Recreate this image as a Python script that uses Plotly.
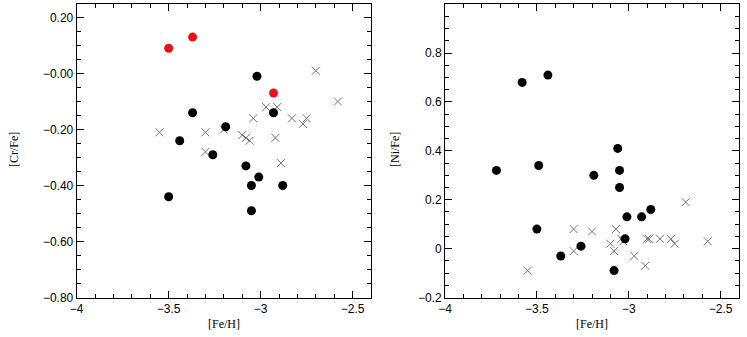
import plotly.graph_objects as go

# ---- data ----
cr_black_feh = [-3.50, -3.37, -3.44, -3.26, -3.19, -3.08, -3.05, -3.05, -3.02, -3.01, -2.93, -2.88]
cr_black_val = [-0.44, -0.14, -0.24, -0.29, -0.19, -0.33, -0.40, -0.49, -0.01, -0.37, -0.14, -0.40]
cr_red_feh = [-3.50, -3.37, -2.93]
cr_red_val = [0.09, 0.13, -0.07]
cr_cross_feh = [-3.55, -3.30, -3.30, -3.20, -3.10, -3.08, -3.06, -3.04, -2.97, -2.91, -2.92, -2.89, -2.83, -2.77, -2.75, -2.70, -2.58]
cr_cross_val = [-0.21, -0.21, -0.28, -0.20, -0.22, -0.23, -0.24, -0.16, -0.12, -0.12, -0.23, -0.32, -0.16, -0.18, -0.16, 0.01, -0.10]

ni_black_feh = [-3.72, -3.58, -3.50, -3.49, -3.44, -3.37, -3.26, -3.19, -3.08, -3.06, -3.05, -3.05, -3.02, -3.01, -2.93, -2.88]
ni_black_val = [0.32, 0.68, 0.08, 0.34, 0.71, -0.03, 0.01, 0.30, -0.09, 0.41, 0.32, 0.25, 0.04, 0.13, 0.13, 0.16]
ni_cross_feh = [-3.55, -3.30, -3.30, -3.20, -3.10, -3.08, -3.07, -3.04, -3.03, -2.97, -2.91, -2.90, -2.89, -2.83, -2.77, -2.75, -2.69, -2.57]
ni_cross_val = [-0.09, 0.08, -0.01, 0.07, 0.02, -0.01, 0.08, 0.04, 0.03, -0.03, -0.07, 0.04, 0.04, 0.04, 0.04, 0.02, 0.19, 0.03]

x_tickvals = [-4, -3.5, -3, -2.5]
x_ticktext = ["\u22124", "\u22123.5", "\u22123", "\u22122.5"]
cr_tickvals = [0.2, 0.0, -0.2, -0.4, -0.6, -0.8]
cr_ticktext = ["0.20", "\u22120.00", "\u22120.20", "\u22120.40", "\u22120.60", "\u22120.80"]
ni_tickvals = [1, 0.8, 0.6, 0.4, 0.2, 0, -0.2]
ni_ticktext = ["1", "0.8", "0.6", "0.4", "0.2", "0", "\u22120.2"]

W, H = 747, 337
fig = go.Figure()

cross_style = dict(symbol="x-thin-open", size=8, color="#707070", line=dict(color="#707070", width=1))
black_style = dict(symbol="circle", size=9, color="black")
red_style = dict(symbol="circle", size=9, color="#ee1111")

# empty traces on the labelled (major-tick) axes
fig.add_trace(go.Scatter(x=[], y=[], xaxis="x", yaxis="y", hoverinfo="skip"))
fig.add_trace(go.Scatter(x=[], y=[], xaxis="x2", yaxis="y2", hoverinfo="skip"))
# data drawn on the top subplots (minor-tick axes with identical ranges)
fig.add_trace(go.Scatter(x=cr_cross_feh, y=cr_cross_val, mode="markers", marker=cross_style, xaxis="x3", yaxis="y3"))
fig.add_trace(go.Scatter(x=cr_black_feh, y=cr_black_val, mode="markers", marker=black_style, xaxis="x3", yaxis="y3"))
fig.add_trace(go.Scatter(x=cr_red_feh, y=cr_red_val, mode="markers", marker=red_style, xaxis="x3", yaxis="y3"))
fig.add_trace(go.Scatter(x=ni_cross_feh, y=ni_cross_val, mode="markers", marker=cross_style, xaxis="x4", yaxis="y4"))
fig.add_trace(go.Scatter(x=ni_black_feh, y=ni_black_val, mode="markers", marker=black_style, xaxis="x4", yaxis="y4"))

tickfont = dict(family="Liberation Sans, Arial, sans-serif", size=12, color="black")
major = dict(showgrid=False, zeroline=False, showline=True, linecolor="black", linewidth=1,
             mirror="allticks", ticks="inside", ticklen=7, tickwidth=1, tickcolor="black",
             tickfont=tickfont, automargin=False, tickmode="array")
minor = dict(showgrid=False, zeroline=False, showline=False, showticklabels=False,
             mirror="allticks", ticks="inside", ticklen=4, tickwidth=1, tickcolor="black",
             automargin=False, tickmode="linear")

xd1 = [76.7 / W, 371 / W]
xd2 = [445 / W, 739 / W]
ydom = [1 - 297.5 / H, 1 - 3.5 / H]
cr_range = [-0.8, 0.25]
ni_range = [-0.2, 1.003]
fe_range = [-4, -2.4]
fig.update_layout(
    width=W, height=H,
    margin=dict(l=0, r=0, t=0, b=0, autoexpand=False),
    paper_bgcolor="white", plot_bgcolor="rgba(0,0,0,0)",
    showlegend=False,
    xaxis=dict(domain=xd1, range=fe_range, tickvals=x_tickvals, ticktext=x_ticktext, anchor="y", **major),
    yaxis=dict(domain=ydom, range=cr_range, tickvals=cr_tickvals, ticktext=cr_ticktext, anchor="x", **major),
    xaxis2=dict(domain=xd2, range=fe_range, tickvals=x_tickvals, ticktext=x_ticktext, anchor="y2", **major),
    yaxis2=dict(domain=ydom, range=ni_range, tickvals=ni_tickvals, ticktext=ni_ticktext, anchor="x2", **major),
    xaxis3=dict(domain=xd1, range=fe_range, tick0=-4, dtick=0.1, anchor="y3", **minor),
    yaxis3=dict(domain=ydom, range=cr_range, tick0=0, dtick=0.05, anchor="x3", **minor),
    xaxis4=dict(domain=xd2, range=fe_range, tick0=-4, dtick=0.1, anchor="y4", **minor),
    yaxis4=dict(domain=ydom, range=ni_range, tick0=0, dtick=0.05, anchor="x4", **minor),
)

titlefont = dict(family="Liberation Serif, Times New Roman, serif", size=12, color="black")
ann = [
    dict(text="[Fe/H]", x=224 / W, y=1 - 324 / H),
    dict(text="[Fe/H]", x=592 / W, y=1 - 324 / H),
    dict(text="[Cr/Fe]", x=14 / W, y=1 - 150 / H, textangle=-90),
    dict(text="[Ni/Fe]", x=395 / W, y=1 - 150 / H, textangle=-90),
]
for a in ann:
    fig.add_annotation(xref="paper", yref="paper", showarrow=False, font=titlefont,
                       xanchor="center", yanchor="middle", **a)

fig.write_html("out.html", config={"displayModeBar": False},
               post_script="document.body.style.margin='0px';")
